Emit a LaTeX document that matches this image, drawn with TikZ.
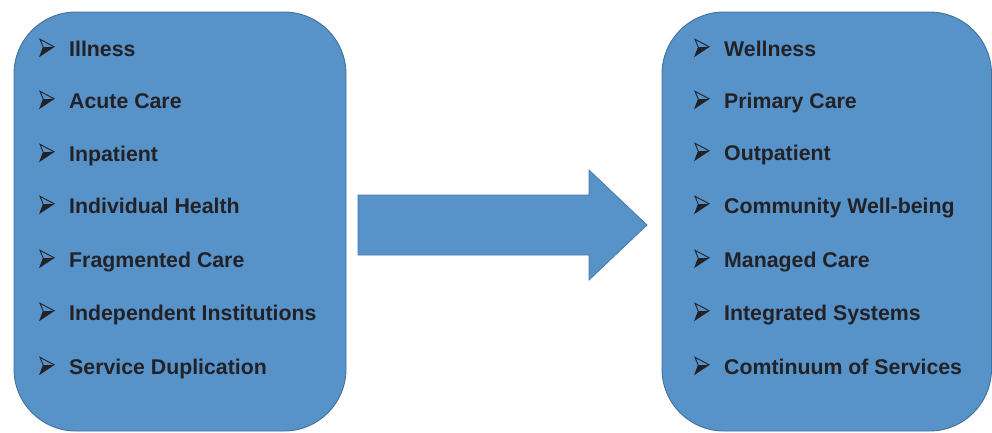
\documentclass[tikz,border=0pt]{standalone}
\usepackage{fontspec}
\setmainfont{Liberation Sans}
\definecolor{boxfill}{RGB}{87,146,201}
\definecolor{boxline}{RGB}{65,113,156}
\definecolor{arrline}{RGB}{72,122,172}
\definecolor{txt}{RGB}{34,34,38}
\begin{document}
\begin{tikzpicture}[x=1pt,y=-1pt,
  panel/.style={draw=boxline, fill=boxfill, line width=0.9pt, rounded corners=62pt},
  item/.style={anchor=base west, inner sep=0pt, text=txt, font=\fontsize{21.3}{25}\selectfont\bfseries},
  bul/.pic={
    \fill[txt] (-15,-9.3) -- (-25.7,-8.7) -- (-29,0) -- cycle;
    \draw[txt, line width=0.9pt, line join=miter] (-15,-9.3) -- (-29,-16.7) -- (-25.7,-8.7) -- (-29,0) -- cycle;
  }]
\useasboundingbox (0,0) rectangle (992,432);
% panels
\path[panel] (14,12) rectangle (346,431);
\path[panel] (662,12) rectangle (991.5,431);
% big arrow
\path[draw=arrline, fill=boxfill, line width=0.8pt, line join=miter]
  (358,195) -- (589,195) -- (589,170) -- (647,225) -- (589,280) -- (589,255) -- (358,255) -- cycle;
% left list
\foreach \t/\y/\n in {Illness/56/l1, Acute Care/108/l2, Inpatient/161/l3, Individual Health/213/l4, Fragmented Care/267/l5, Independent Institutions/320/l6, Service Duplication/374/l7}{
  \node[item] (\n) at (69,\y) {\t};
  \pic at (69,\y) {bul};
}
% right list
\foreach \t/\y/\n in {Wellness/56/r1, Primary Care/108/r2, Outpatient/160/r3, Community Well-being/213/r4, Managed Care/267/r5, Integrated Systems/320/r6, Comtinuum of Services/374/r7}{
  \node[item] (\n) at (724,\y) {\t};
  \pic at (724,\y) {bul};
}
\end{tikzpicture}
\end{document}
